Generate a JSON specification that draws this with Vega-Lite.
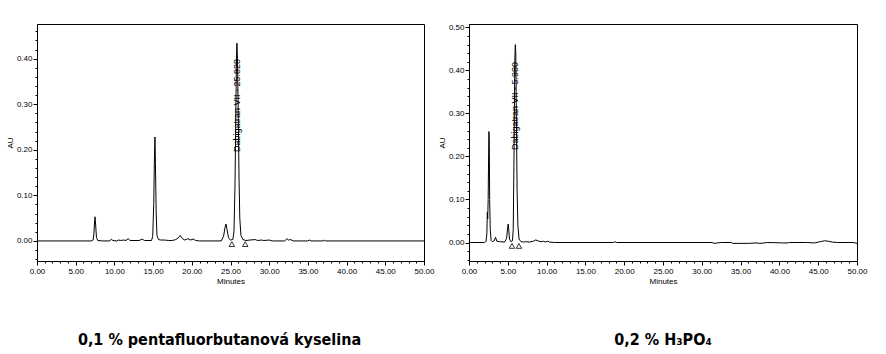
{
  "$schema": "https://vega.github.io/schema/vega-lite/v6.json",
  "padding": {"left": 5, "top": 22, "right": 5, "bottom": 5},
  "background": "white",
  "bounds": "flush",
  "spacing": 45,
  "datasets": {
    "left": [
      {"t": 0, "au": 0}, {"t": 7.0, "au": 0}, {"t": 7.25, "au": 0.002}, {"t": 7.35, "au": 0.015}, {"t": 7.45, "au": 0.045}, {"t": 7.5, "au": 0.053}, {"t": 7.58, "au": 0.035}, {"t": 7.68, "au": 0.008}, {"t": 7.85, "au": 0.001}, {"t": 8.5, "au": 0},
      {"t": 9.4, "au": 0}, {"t": 9.6, "au": 0.004}, {"t": 9.8, "au": 0.001}, {"t": 10.3, "au": 0.0}, {"t": 10.5, "au": 0.002}, {"t": 10.8, "au": 0.001}, {"t": 11.2, "au": 0.002}, {"t": 11.5, "au": 0.001}, {"t": 11.8, "au": 0.005}, {"t": 12.0, "au": 0.001},
      {"t": 13.2, "au": 0.001}, {"t": 13.6, "au": 0.004}, {"t": 13.9, "au": 0.001}, {"t": 14.8, "au": 0.001}, {"t": 14.95, "au": 0.01}, {"t": 15.08, "au": 0.08}, {"t": 15.17, "au": 0.18}, {"t": 15.24, "au": 0.228}, {"t": 15.3, "au": 0.17}, {"t": 15.4, "au": 0.06}, {"t": 15.5, "au": 0.012}, {"t": 15.7, "au": 0.003},
      {"t": 16.0, "au": 0.002}, {"t": 16.5, "au": 0.002}, {"t": 17.0, "au": 0.001}, {"t": 17.5, "au": 0.001}, {"t": 17.9, "au": 0.003}, {"t": 18.2, "au": 0.006}, {"t": 18.5, "au": 0.012}, {"t": 18.8, "au": 0.005}, {"t": 19.1, "au": 0.002}, {"t": 19.5, "au": 0.005}, {"t": 19.8, "au": 0.002}, {"t": 20.2, "au": 0.004}, {"t": 20.5, "au": 0.001}, {"t": 21.0, "au": 0},
      {"t": 23.8, "au": 0}, {"t": 24.1, "au": 0.01}, {"t": 24.3, "au": 0.03}, {"t": 24.42, "au": 0.037}, {"t": 24.55, "au": 0.025}, {"t": 24.75, "au": 0.007}, {"t": 25.0, "au": 0.002}, {"t": 25.3, "au": 0.003},
      {"t": 25.45, "au": 0.02}, {"t": 25.58, "au": 0.12}, {"t": 25.7, "au": 0.3}, {"t": 25.78, "au": 0.41}, {"t": 25.83, "au": 0.434}, {"t": 25.9, "au": 0.4}, {"t": 26.0, "au": 0.28}, {"t": 26.1, "au": 0.14}, {"t": 26.2, "au": 0.05}, {"t": 26.35, "au": 0.012}, {"t": 26.6, "au": 0.003},
      {"t": 27.0, "au": 0.001}, {"t": 27.5, "au": 0.002}, {"t": 28.2, "au": 0.003}, {"t": 28.5, "au": 0.001}, {"t": 29.0, "au": 0.002}, {"t": 29.3, "au": 0.001}, {"t": 30.0, "au": 0.002}, {"t": 30.4, "au": 0},
      {"t": 32.0, "au": 0}, {"t": 32.3, "au": 0.005}, {"t": 32.5, "au": 0.002}, {"t": 32.8, "au": 0.003}, {"t": 33.1, "au": 0}, {"t": 35.0, "au": 0}, {"t": 35.2, "au": 0.002}, {"t": 35.4, "au": 0}, {"t": 37.0, "au": 0}, {"t": 37.1, "au": 0.002}, {"t": 37.3, "au": 0}, {"t": 50, "au": 0}
    ],
    "leftMarks": [{"t": 25.17, "au": -0.007}, {"t": 26.9, "au": -0.007}],
    "leftLabel": [{"t": 25.83, "au": 0.195, "label": "Dabigatran VII - 25.828"}],
    "right": [
      {"t": 0, "au": 0}, {"t": 2.0, "au": 0}, {"t": 2.2, "au": 0.003}, {"t": 2.3, "au": 0.02}, {"t": 2.36, "au": 0.07}, {"t": 2.41, "au": 0.055}, {"t": 2.47, "au": 0.1}, {"t": 2.56, "au": 0.258}, {"t": 2.61, "au": 0.245}, {"t": 2.66, "au": 0.1}, {"t": 2.74, "au": 0.03}, {"t": 2.85, "au": 0.005},
      {"t": 3.0, "au": 0.002}, {"t": 3.25, "au": 0.004}, {"t": 3.42, "au": 0.012}, {"t": 3.58, "au": 0.003}, {"t": 3.9, "au": 0.002}, {"t": 4.6, "au": 0.001}, {"t": 4.85, "au": 0.01}, {"t": 4.98, "au": 0.035}, {"t": 5.05, "au": 0.043}, {"t": 5.12, "au": 0.03}, {"t": 5.22, "au": 0.008}, {"t": 5.4, "au": 0.002},
      {"t": 5.6, "au": 0.004}, {"t": 5.7, "au": 0.03}, {"t": 5.8, "au": 0.2}, {"t": 5.9, "au": 0.42}, {"t": 5.97, "au": 0.46}, {"t": 6.03, "au": 0.44}, {"t": 6.1, "au": 0.3}, {"t": 6.2, "au": 0.12}, {"t": 6.3, "au": 0.04}, {"t": 6.45, "au": 0.008}, {"t": 6.7, "au": 0.002},
      {"t": 7.0, "au": 0.001}, {"t": 7.3, "au": 0.002}, {"t": 7.8, "au": 0.001}, {"t": 8.3, "au": 0.003}, {"t": 8.6, "au": 0.006}, {"t": 9.0, "au": 0.003}, {"t": 9.4, "au": 0.002}, {"t": 9.6, "au": 0.003}, {"t": 9.9, "au": 0.001}, {"t": 10.1, "au": 0.003}, {"t": 10.4, "au": 0.001}, {"t": 11.0, "au": 0},
      {"t": 18.6, "au": 0}, {"t": 18.8, "au": 0.002}, {"t": 19.0, "au": 0}, {"t": 31.3, "au": 0}, {"t": 31.6, "au": -0.002}, {"t": 32.0, "au": -0.001}, {"t": 32.5, "au": 0}, {"t": 33.8, "au": 0}, {"t": 34.0, "au": -0.002}, {"t": 36.0, "au": -0.002}, {"t": 37.0, "au": -0.001}, {"t": 37.5, "au": -0.002}, {"t": 38.0, "au": -0.001}, {"t": 38.5, "au": 0},
      {"t": 40.5, "au": -0.001}, {"t": 41.0, "au": -0.001}, {"t": 41.3, "au": 0}, {"t": 43.5, "au": 0}, {"t": 44.5, "au": -0.001}, {"t": 45.3, "au": 0.002}, {"t": 45.8, "au": 0.004}, {"t": 46.3, "au": 0.003}, {"t": 46.8, "au": 0.001}, {"t": 47.5, "au": 0}, {"t": 49.5, "au": 0}, {"t": 50, "au": -0.002}
    ],
    "rightMarks": [{"t": 5.54, "au": -0.008}, {"t": 6.44, "au": -0.008}],
    "rightLabel": [{"t": 5.98, "au": 0.215, "label": "Dabigatran VII - 5.980"}]
  },
  "hconcat": [
    {
      "width": 387,
      "height": 237,
      "title": {"text": "0,1 % pentafluorbutanová kyselina", "orient": "bottom", "anchor": "middle", "dx": -11, "offset": 47},
      "encoding": {
        "x": {"field": "t", "type": "quantitative", "scale": {"domain": [0, 50], "nice": false, "zero": false},
          "axis": {"title": "Minutes", "values": [0,1,2,3,4,5,6,7,8,9,10,11,12,13,14,15,16,17,18,19,20,21,22,23,24,25,26,27,28,29,30,31,32,33,34,35,36,37,38,39,40,41,42,43,44,45,46,47,48,49,50],
            "labelExpr": "datum.value % 5 == 0 ? format(datum.value, '.2f') : ''",
            "tickSize": {"condition": {"test": "datum.value % 5 == 0", "value": 4}, "value": 2},
            "labelOverlap": false, "labelFlush": false, "labelPadding": 2, "titlePadding": 2}},
        "y": {"field": "au", "type": "quantitative", "scale": {"domain": [-0.044, 0.476], "nice": false, "zero": false},
          "axis": {"title": "AU", "values": [-0.04,-0.02,0,0.02,0.04,0.06,0.08,0.1,0.12,0.14,0.16,0.18,0.2,0.22,0.24,0.26,0.28,0.3,0.32,0.34,0.36,0.38,0.4,0.42,0.44,0.46],
            "labelExpr": "abs(datum.value*10 - round(datum.value*10)) < 0.001 ? format(datum.value, '.2f') : ''",
            "tickSize": {"condition": {"test": "abs(datum.value*10 - round(datum.value*10)) < 0.001", "value": 4}, "value": 2},
            "labelOverlap": false, "labelFlush": false, "labelPadding": 1, "titlePadding": 2}}
      },
      "layer": [
        {
          "data": {"name": "left"},
          "mark": {"type": "line", "color": "black", "strokeWidth": 1}
        },
        {
          "data": {"name": "leftMarks"},
          "mark": {"type": "point", "shape": "triangle-up", "filled": false, "color": "black", "size": 30, "strokeWidth": 0.8, "opacity": 1}
        },
        {
          "data": {"name": "leftLabel"},
          "mark": {"type": "text", "angle": 270, "align": "left", "baseline": "middle", "font": "Liberation Sans", "fontSize": 9, "color": "black"},
          "encoding": {"text": {"field": "label"}}
        }
      ]
    },
    {
      "width": 388,
      "height": 237,
      "title": {"text": "0,2 % H₃PO₄", "orient": "bottom", "anchor": "middle", "dx": 0, "offset": 47},
      "encoding": {
        "x": {"field": "t", "type": "quantitative", "scale": {"domain": [0, 50], "nice": false, "zero": false},
          "axis": {"title": "Minutes", "values": [0,1,2,3,4,5,6,7,8,9,10,11,12,13,14,15,16,17,18,19,20,21,22,23,24,25,26,27,28,29,30,31,32,33,34,35,36,37,38,39,40,41,42,43,44,45,46,47,48,49,50],
            "labelExpr": "datum.value % 5 == 0 ? format(datum.value, '.2f') : ''",
            "tickSize": {"condition": {"test": "datum.value % 5 == 0", "value": 4}, "value": 2},
            "labelOverlap": false, "labelFlush": false, "labelPadding": 2, "titlePadding": 2}},
        "y": {"field": "au", "type": "quantitative", "scale": {"domain": [-0.043, 0.508], "nice": false, "zero": false},
          "axis": {"title": "AU", "values": [-0.04,-0.02,0,0.02,0.04,0.06,0.08,0.1,0.12,0.14,0.16,0.18,0.2,0.22,0.24,0.26,0.28,0.3,0.32,0.34,0.36,0.38,0.4,0.42,0.44,0.46,0.48,0.5],
            "labelExpr": "abs(datum.value*10 - round(datum.value*10)) < 0.001 ? format(datum.value, '.2f') : ''",
            "tickSize": {"condition": {"test": "abs(datum.value*10 - round(datum.value*10)) < 0.001", "value": 4}, "value": 2},
            "labelOverlap": false, "labelFlush": false, "labelPadding": 1, "titlePadding": 2}}
      },
      "layer": [
        {
          "data": {"name": "right"},
          "mark": {"type": "line", "color": "black", "strokeWidth": 1}
        },
        {
          "data": {"name": "rightMarks"},
          "mark": {"type": "point", "shape": "triangle-up", "filled": false, "color": "black", "size": 30, "strokeWidth": 0.8, "opacity": 1}
        },
        {
          "data": {"name": "rightLabel"},
          "mark": {"type": "text", "angle": 270, "align": "left", "baseline": "middle", "font": "Liberation Sans", "fontSize": 9, "color": "black"},
          "encoding": {"text": {"field": "label"}}
        }
      ]
    }
  ],
  "config": {
    "view": {"stroke": "black", "strokeWidth": 1},
    "axis": {"grid": false, "domainColor": "black", "tickColor": "black", "labelColor": "black", "titleColor": "black", "labelOverlap": false,
      "labelFont": "Liberation Sans", "titleFont": "Liberation Sans", "labelFontSize": 8, "titleFontSize": 8, "titleFontWeight": "normal"},
    "axisQuantitative": {"labelOverlap": false},
    "title": {"font": "DejaVu Sans Condensed, Liberation Sans Narrow, DejaVu Sans", "fontSize": 16, "fontWeight": "bold", "color": "black"}
  }
}
